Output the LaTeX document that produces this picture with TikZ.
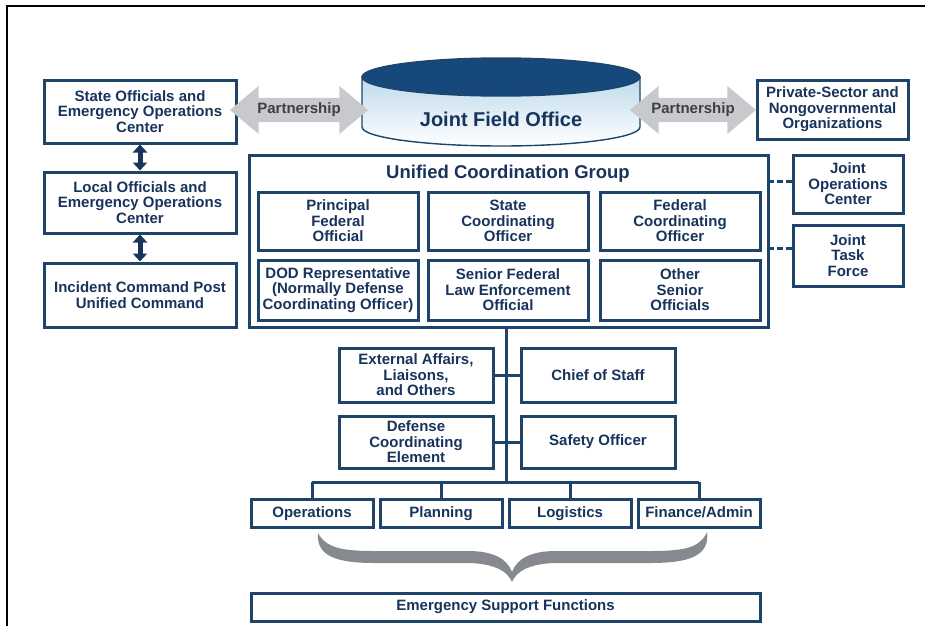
\documentclass[tikz,border=0pt]{standalone}
\usepackage{fontspec}
\setmainfont{Liberation Sans}
\usepackage{tikz}
\usetikzlibrary{
  shapes.arrows, arrows.meta,
  positioning, calc
}
\definecolor{jfonavy}{RGB}{30,68,106}
\definecolor{inknavy}{RGB}{24,52,92}
\definecolor{capnavy}{RGB}{22,72,124}
\definecolor{skyfill}{RGB}{190,218,236}
\definecolor{partgray}{RGB}{200,201,204}
\definecolor{bracegray}{RGB}{134,137,142}
\newcommand{\orgfont}{\fontsize{15}{15.5}\selectfont\bfseries}
\tikzset{
  orgbox/.style={rectangle,draw=jfonavy,line width=3pt,fill=white,align=center,text=inknavy,font=\orgfont,inner sep=2pt},
  secbox/.style={orgbox,minimum width=122pt,minimum height=28pt,text height=11pt,text depth=3pt},
  partarrow/.style={double arrow,fill=partgray,draw=none,double arrow head extend=11pt,double arrow tip angle=80,
                    minimum width=48pt,inner sep=4pt,font=\orgfont,text=black!75},
  linkarr/.style={{Triangle[width=14pt,length=8pt]}-{Triangle[width=14pt,length=8pt]},line width=5pt,draw=inknavy},
  tie/.style={draw=jfonavy,line width=3pt},
  dashtie/.style={tie,dash pattern=on 6pt off 3pt}
}

\begin{document}
\begin{tikzpicture}[x=1pt,y=-1pt]
  \useasboundingbox (0,0) rectangle (925,626);
  %% Frame
  \draw[line width=2.5pt] (925,6) -- (7,6) -- (7,626);

  %% State / local side
  \node[orgbox,minimum width=192pt,minimum height=63pt] (stateeoc) at (140,111.5) {State Officials and\\Emergency Operations\\Center};
  \node[orgbox,minimum width=192pt,minimum height=61pt] (localeoc) at (140,202.5) {Local Officials and\\Emergency Operations\\Center};
  \node[orgbox,minimum width=192pt,minimum height=64pt] (icp) at (140,295) {Incident Command Post\\Unified Command};

  %% Joint Field Office cylinder
  \shade[top color=skyfill,bottom color=white,draw=jfonavy,line width=1.4pt]
    (362,77) -- (362,127) arc[start angle=180,end angle=360,x radius=139pt,y radius=19pt] -- (640,77) -- cycle;
  \filldraw[fill=capnavy,draw=jfonavy,line width=1.4pt] (501,77) ellipse[x radius=139pt,y radius=19pt];
  \node[font=\fontsize{20}{22}\selectfont\bfseries,text=inknavy,minimum width=278pt] (jfo) at (501,119) {Joint Field Office};

  \node[orgbox,minimum width=151pt,minimum height=59pt] (privsec) at (832.5,109.5) {Private-Sector and\\Nongovernmental\\Organizations};

  %% Partnership arrows
  \node[partarrow,minimum height=138pt] (partleft) at (299,110) {Partnership};
  \node[partarrow,minimum height=126pt] (partright) at (693,110) {Partnership};

  %% Unified Coordination Group
  \node[orgbox,minimum width=519pt,minimum height=172pt] (ucg) at (508.5,241) {};
  \node[font=\fontsize{18.5}{20}\selectfont\bfseries,text=inknavy] (ucgtitle) at (508,174) {Unified Coordination Group};
  \node[orgbox,minimum width=160pt,minimum height=58pt] (pfo) at (338,221) {Principal\\Federal\\Official};
  \node[orgbox,minimum width=160pt,minimum height=58pt] (sco) at (508,221) {State\\Coordinating\\Officer};
  \node[orgbox,minimum width=160pt,minimum height=58pt] (fco) at (680,221) {Federal\\Coordinating\\Officer};
  \node[orgbox,minimum width=160pt,minimum height=60pt] (dodrep) at (338,290) {DOD Representative\\(Normally Defense\\Coordinating Officer)};
  \node[orgbox,minimum width=160pt,minimum height=60pt] (sfleo) at (508,290) {Senior Federal\\Law Enforcement\\Official};
  \node[orgbox,minimum width=160pt,minimum height=60pt] (oso) at (680,290) {Other\\Senior\\Officials};

  \node[orgbox,minimum width=110pt,minimum height=58pt] (joc) at (848,184) {Joint\\Operations\\Center};
  \node[orgbox,minimum width=110pt,minimum height=61pt] (jtf) at (848,255.5) {Joint\\Task\\Force};

  %% Staff
  \node[orgbox,minimum width=154pt,minimum height=54pt] (extaff) at (416,375) {External Affairs,\\Liaisons,\\and Others};
  \node[orgbox,minimum width=154pt,minimum height=54pt] (chief) at (598,375) {Chief of Staff};
  \node[orgbox,minimum width=154pt,minimum height=52pt] (dce) at (416,442) {Defense\\Coordinating\\Element};
  \node[orgbox,minimum width=154pt,minimum height=52pt] (safety) at (598,442) {Safety Officer};

  %% Sections
  \node[secbox] (ops) at (312,513) {Operations};
  \node[secbox,right=4pt of ops] (plan) {Planning};
  \node[secbox,right=4pt of plan] (logi) {Logistics};
  \node[secbox,right=4pt of logi] (fin) {Finance/Admin};
  \node[orgbox,minimum width=509pt,minimum height=28pt] (esf) at (505.5,607) {Emergency Support Functions};
  \coordinate (hub) at (506,482);

  %% Connectors
  \draw[linkarr] (stateeoc.south) -- (localeoc.north);
  \draw[linkarr] (localeoc.south) -- (icp.north);
  \draw[dashtie] ([yshift=3pt]joc.west) -- ([yshift=3pt]joc.west -| ucg.east);
  \draw[dashtie] ([yshift=7.5pt]jtf.west) -- ([yshift=7.5pt]jtf.west -| ucg.east);
  \draw[tie] (hub |- ucg.south) -- (hub);
  \draw[tie] (extaff.east) -- (chief.west);
  \draw[tie] (dce.east) -- (safety.west);
  \draw[tie] (ops.north |- hub) -- (fin.north |- hub);
  \draw[tie] (ops.north |- hub) -- (ops.north);
  \draw[tie] (plan.north |- hub) -- (plan.north);
  \draw[tie] (logi.north |- hub) -- (logi.north);
  \draw[tie] (fin.north |- hub) -- (fin.north);

  %% Brace over the sections
  \fill[bracegray]
    (318,533) .. controls (316,556) and (336,563) .. (375,563) -- (470,563)
    .. controls (496,564) and (508,572) .. (512,582)
    .. controls (516,572) and (528,564) .. (554,563) -- (650,563)
    .. controls (689,563) and (710,556) .. (707,532)
    .. controls (700,548) and (684,551) .. (650,551) -- (556,551)
    .. controls (532,551) and (517,558) .. (512,572)
    .. controls (507,558) and (492,551) .. (468,551) -- (375,551)
    .. controls (342,551) and (326,548) .. (318,533) -- cycle;
\end{tikzpicture}
\end{document}
